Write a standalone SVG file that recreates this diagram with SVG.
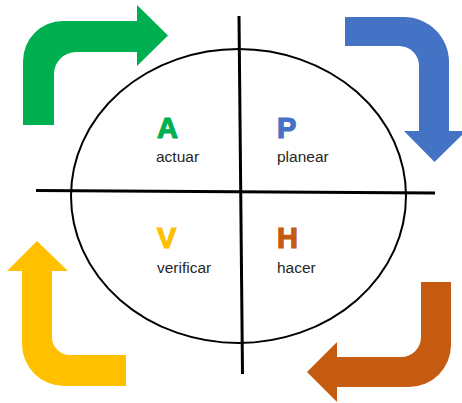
<svg xmlns="http://www.w3.org/2000/svg" width="462" height="403" viewBox="0 0 462 403">
<style>
.letter{font-family:"Liberation Sans",Arial,sans-serif;font-weight:bold;font-size:29px;stroke-width:1.2px}
.label{font-family:"Liberation Sans",Arial,sans-serif;font-size:15.5px;fill:#262626}
.axis{stroke:#000;stroke-width:3;fill:none}
</style>
<rect width="462" height="403" fill="#fff"/>
<g id="cycle">
<ellipse cx="238.5" cy="196" rx="167.5" ry="147" fill="none" stroke="#000" stroke-width="2"/>
<line class="axis" x1="36" y1="190.5" x2="435" y2="193"/>
<line class="axis" x1="239" y1="16" x2="242.5" y2="374"/>
</g>
<g id="connectors">
<path d="M23,125 L23,61 A40,40 0 0 1 63,21 L137,21 L137,5 L168,35.5 L137,66 L137,52 L76,52 A22,22 0 0 0 54,74 L54,125 Z" fill="#00B050"/>
<path d="M345,17 L404,17 A45,45 0 0 1 449,62 L449,131 L466,131 L434.5,162 L404,131 L419,131 L419,66 A20,20 0 0 0 399,46 L345,46 Z" fill="#4472C4"/>
<path d="M37,241 L68,271 L52,271 L52,337 A18,18 0 0 0 70,355 L126,355 L126,386 L64,386 A42,42 0 0 1 22,344 L22,271 L7,271 Z" fill="#FFC000"/>
<path d="M421,282 L451,282 L451,345 A42,42 0 0 1 409,387 L337,387 L337,402 L307,372 L337,342 L337,357 L401,357 A20,20 0 0 0 421,337 Z" fill="#C55A11"/>
</g>
<g id="node-A">
<text class="letter" x="157" y="138" fill="#00B050" stroke="#00B050">A</text>
<text class="label" x="156" y="162">actuar</text>
</g>
<g id="node-P">
<text class="letter" x="277" y="138" fill="#4472C4" stroke="#4472C4">P</text>
<text class="label" x="277" y="162">planear</text>
</g>
<g id="node-V">
<text class="letter" x="157" y="248" fill="#FFC000" stroke="#FFC000">V</text>
<text class="label" x="157" y="273">verificar</text>
</g>
<g id="node-H">
<text class="letter" x="277" y="248" fill="#C55A11" stroke="#C55A11">H</text>
<text class="label" x="277" y="273">hacer</text>
</g>
</svg>
